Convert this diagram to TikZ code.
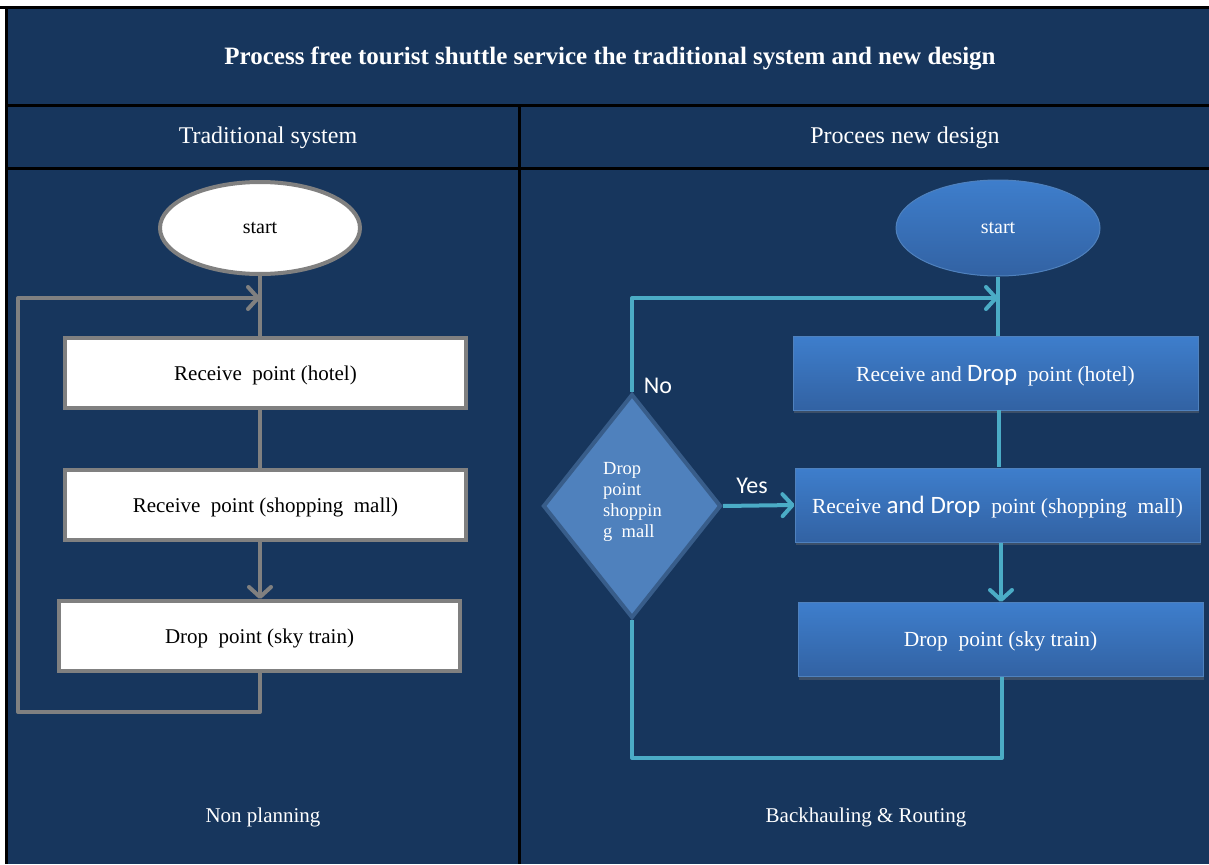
\documentclass[tikz,border=0pt]{standalone}
\usepackage{fontspec}
\setmainfont{Liberation Serif}
\newfontfamily\calib{Carlito}
\usetikzlibrary{arrows.meta,shapes.geometric,shadows}
\definecolor{navy}{RGB}{23,54,93}
\definecolor{cyanline}{RGB}{75,172,198}
\definecolor{greyline}{RGB}{128,128,128}
\definecolor{btop}{RGB}{62,126,204}
\definecolor{bbot}{RGB}{50,98,163}
\definecolor{bedge}{RGB}{79,129,189}
\definecolor{dfill}{RGB}{79,129,189}
\definecolor{dedge}{RGB}{56,93,138}
\tikzset{
  x=1pt,y=-1pt,
  framerule/.style={black,line width=3pt},
  oldbox/.style={rectangle,draw=greyline,line width=4pt,fill=white,text=black,
    minimum width=401pt,minimum height=70pt,inner sep=0pt,text depth=-1pt,font=\fontsize{21}{24}\selectfont},
  oldstart/.style={ellipse,draw=greyline,line width=4pt,fill=white,text=black,
    minimum width=200pt,minimum height=92pt,inner sep=0pt,font=\fontsize{20}{24}\selectfont},
  newbox/.style={rectangle,draw=bedge,line width=1pt,top color=btop,bottom color=bbot,text=white,
    minimum width=405pt,minimum height=74pt,inner sep=0pt,text depth=-1pt,font=\fontsize{21.5}{24}\selectfont,
    drop shadow={shadow xshift=1pt,shadow yshift=-3pt,opacity=0.35}},
  newstart/.style={ellipse,draw=bedge,line width=1pt,top color=btop,bottom color=bbot,text=white,
    minimum width=204pt,minimum height=96pt,inner sep=0pt,font=\fontsize{20}{24}\selectfont},
  decision/.style={diamond,draw=dedge,line width=4pt,fill=dfill,text=white,
    minimum width=178pt,minimum height=224pt,inner sep=0pt},
  greyflow/.style={greyline,line width=4pt,line join=round},
  cyanflow/.style={cyanline,line width=4pt,line join=round},
  tip/.style={-{Straight Barb[length=10pt,width=22pt,line cap=round,line join=round]}},
  title/.style={text=white,font=\bfseries\fontsize{25}{28}\selectfont},
  header/.style={text=white,font=\fontsize{24}{26}\selectfont},
  footer/.style={text=white,font=\fontsize{21}{24}\selectfont},
  yesno/.style={text=white,font=\calib\fontsize{24}{26}\selectfont}
}
\begin{document}
\begin{tikzpicture}
\useasboundingbox (0,0) rectangle (1209,864);
\fill[white] (0,0) rectangle (1209,864);
\fill[navy] (7,8) rectangle (1209,864);
% frame
\draw[framerule] (0,8) -- (1209,8);
\draw[framerule] (6.5,8) -- (6.5,864);
\draw[framerule] (7,105.5) -- (1209,105.5);
\draw[framerule] (7,168.5) -- (1209,168.5);
\draw[framerule] (519,105.5) -- (519,864);
% texts of the table
\node[title] (ttl) at (610,58) {Process free tourist shuttle service the traditional system and new design};
\node[header] (hl) at (268,138) {Traditional system};
\node[header] (hr) at (905,138) {Procees new design};
\node[footer] (fl) at (263,817) {Non planning};
\node[footer] (fr) at (866,817) {Backhauling \& Routing};
% left flow
\node[oldstart] (ls) at (260,228) {start};
\node[oldbox] (l1) at (265.5,373) {Receive\ \ point (hotel)};
\node[oldbox] (l2) at (265.5,505) {Receive\ \ point (shopping\ \ mall)};
\node[oldbox] (l3) at (259.5,636) {Drop\ \ point (sky train)};
\coordinate (la) at (260,298);
\coordinate (lb) at (18,298);
\coordinate (lc) at (18,712);
\coordinate (ld) at (260,712);
\draw[greyflow] (ls.south) -- (ls.south |- l1.north);
\draw[greyflow] (ls.south |- l1.south) -- (ls.south |- l2.north);
\draw[greyflow,tip] (ls.south |- l2.south) -- (ls.south |- l3.north);
\draw[greyflow,tip] (ls.south |- l3.south) -- (ld) -- (lc) -- (lb) -- (la);
% right flow
\node[newstart] (rs) at (998,228) {start};
\node[newbox] (r1) at (995.5,373) {Receive and {\calib\fontsize{25}{26}\selectfont Drop}\ \ point (hotel)};
\node[newbox] (r2) at (997.5,505) {Receive {\calib\fontsize{25}{26}\selectfont and Drop}\ \ point (shopping\ \ mall)};
\node[newbox] (r3) at (1000.5,639.5) {Drop\ \ point (sky train)};
\node[decision] (dd) at (632,506) {};
\node[text=white,align=left,font=\fontsize{18.5}{21}\selectfont,anchor=north west,inner sep=0pt] (dt) at (603,462) {Drop\\point\\shoppin\\g\ \ mall};
\coordinate (ra) at (998,298);
\coordinate (rb) at (632,298);
\coordinate (rc) at (632,758);
\coordinate (rd) at (1002,758);
\draw[cyanflow] (rs.south) -- (rs.south |- r1.north);
\draw[cyanflow] (999,410) -- (999,467);
\draw[cyanflow,tip] (1001,543) -- (r3.north -| 1001,0);
\draw[cyanflow,tip] (dd.north) -- (rb) -- (ra);
\draw[cyanflow,tip] (dd.east) -- (r2.west);
\draw[cyanflow] (dd.south) -- (rc) -- (rd) -- (rd |- r3.south);
\node[yesno] (no) at (658,386) {No};
\node[yesno] (yes) at (752,486) {Yes};
\end{tikzpicture}
\end{document}
